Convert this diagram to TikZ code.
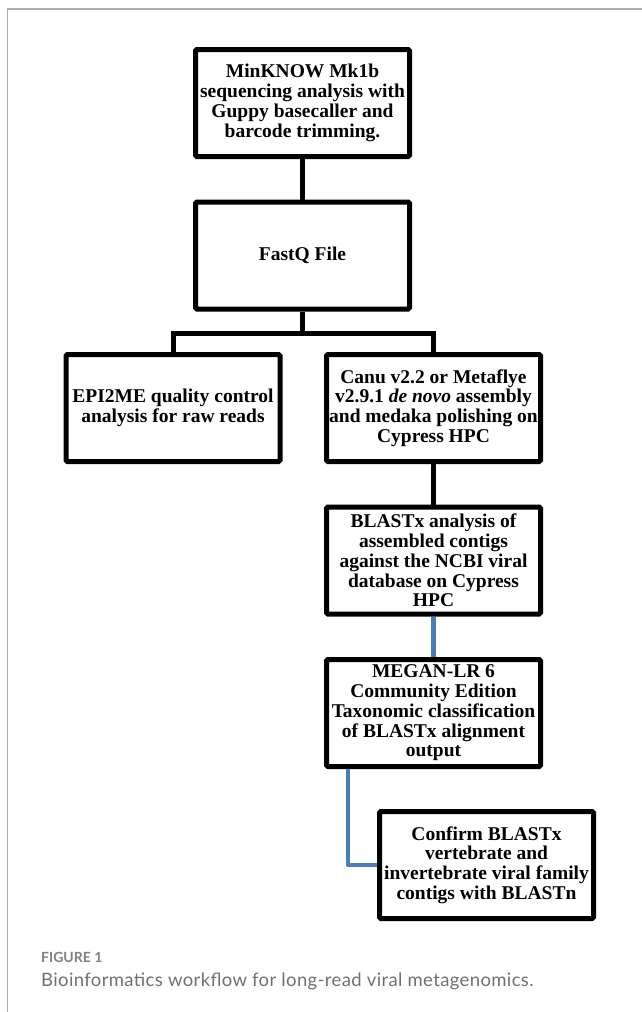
\documentclass[tikz,border=0pt]{standalone}
\usepackage{fontspec}
\setmainfont{Liberation Serif}
\newfontfamily\capfont{Lato}
\newfontfamily\capwidefont[LetterSpace=2]{Lato}
\definecolor{linkblue}{RGB}{74,126,187}
\definecolor{framegray}{RGB}{170,170,170}
\definecolor{figgray}{RGB}{128,128,128}
\definecolor{capgray}{RGB}{112,112,112}
\begin{document}
\begin{tikzpicture}[x=1pt,y=-1pt,
  box/.style={draw, line width=5pt, rounded corners=1.5pt, minimum width=214pt, minimum height=107pt,
    align=center, inner sep=0pt, font=\fontsize{19.5}{19.8}\selectfont\bfseries},
  conn/.style={line width=5pt},
  bconn/.style={line width=4.5pt, draw=linkblue, line join=round},
  captxt/.style={anchor=base west, inner sep=0pt}]
\useasboundingbox (0,0) rectangle (642,1012);
\draw[framegray, line width=1.5pt] (642,9) -- (7.5,9) -- (7.5,1012);

\node[box] (mk) at (302.5,103) {MinKNOW Mk1b\\sequencing analysis with\\Guppy basecaller and\\barcode trimming.};
\node[box] (fq) at (302.5,255.5) {FastQ File};
\node[box] (epi) at (173,408) {EPI2ME quality control\\analysis for raw reads};
\node[box] (canu) at (433.5,408) {Canu v2.2 or Metaflye\\v2.9.1 \textit{de novo} assembly\\and medaka polishing on\\Cypress HPC};
\node[box] (blast) at (433.5,560.5) {BLASTx analysis of\\assembled contigs\\against the NCBI viral\\database on Cypress\\HPC};
\node[box] (megan) at (433.5,713) {MEGAN-LR 6\\Community Edition\\Taxonomic classification\\of BLASTx alignment\\output};
\node[box] (conf) at (486.5,865) {Confirm BLASTx\\vertebrate and\\invertebrate viral family\\contigs with BLASTn};

\coordinate (brk) at (302.5,333);
\draw[conn] (mk) -- (fq);
\draw[conn] (fq.south) -- (brk);
\draw[conn] (epi.north) |- (brk) -| (canu.north);
\draw[conn] (canu) -- (blast);
\draw[bconn] (blast) -- (megan);
\draw[bconn] ([xshift=24pt]megan.south west) |- (conf.west);

\node[captxt, font=\capfont\fontsize{14}{16}\selectfont\bfseries, text=figgray] (fig) at (41,962) {FIGURE 1};
\node[captxt, font=\capwidefont\fontsize{18.5}{20}\selectfont, text=capgray] (cap) at (41,986) {Bioinformatics workflow for long-read viral metagenomics.};
\end{tikzpicture}
\end{document}
